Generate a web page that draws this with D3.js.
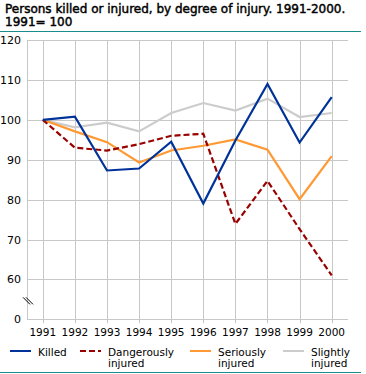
<!DOCTYPE html>
<html><head><meta charset="utf-8">
<script src="https://cdn.jsdelivr.net/npm/d3@7"></script>
<style>body{margin:0;background:#fff}svg{display:block}text{font-family:"DejaVu Sans",sans-serif;fill:#000}</style>
</head><body><svg id="c" width="366" height="374"></svg>
<script>
const years = [1991,1992,1993,1994,1995,1996,1997,1998,1999,2000];
const killed = [100,100.8,87.3,87.8,94.5,79.0,94.8,109.0,94.3,105.7];
const dangerously = [100,93.0,92.3,93.9,96.0,96.5,73.9,84.7,72.6,61.0];
const seriously = [100,97.1,94.4,89.3,92.3,93.5,95.1,92.5,80.1,90.9];
const slightly = [100,98.1,99.3,97.1,101.7,104.2,102.3,105.3,100.7,101.7];
const yTicks = [50,60,70,80,90,100,110,120];
const yTickLabels = ["0","60","70","80","90","100","110","120"];
const seriesNames = [["Killed"],["Dangerously","injured"],["Seriously","injured"],["Slightly","injured"]];
const seriesColors = ["#003399","#990000","#ff9933","#cccccc"];
const seriesDash = [null,"6,3",null,null];

const svg = d3.select("#c");
const x = d3.scalePoint().domain(years).range([42.8,331.7]);
const y = d3.scaleLinear().domain([50,120]).range([319.3,40]);
const left = 27, right = 348;

svg.append("text").attr("x",5).attr("y",13).style("font-size","12px")
  .attr("stroke","#000").attr("stroke-width",0.45)
  .text("Persons killed or injured, by degree of injury. 1991-2000.");
svg.append("text").attr("x",5).attr("y",25.5).style("font-size","12px")
  .attr("stroke","#000").attr("stroke-width",0.45).text("1991= 100");
svg.append("line").attr("x1",0).attr("x2",361).attr("y1",31.5).attr("y2",31.5).attr("stroke","#1a8c8c").attr("stroke-width",1);
svg.append("line").attr("x1",0).attr("x2",361).attr("y1",372.5).attr("y2",372.5).attr("stroke","#1a8c8c").attr("stroke-width",1);

// grid
const g = svg.append("g");
g.selectAll(".hg").data(yTicks.slice(1)).join("line")
  .attr("x1",left).attr("x2",right).attr("y1",d=>Math.round(y(d))+0.5).attr("y2",d=>Math.round(y(d))+0.5)
  .attr("stroke","#c8c8c8");
g.selectAll(".vg").data(years).join("line")
  .attr("x1",d=>Math.round(x(d))+0.5).attr("x2",d=>Math.round(x(d))+0.5).attr("y1",y(120)).attr("y2",y(50)+4)
  .attr("stroke","#c8c8c8");
// axes lines
g.append("line").attr("x1",left+0.5).attr("x2",left+0.5).attr("y1",y(120)).attr("y2",y(50)).attr("stroke","#c8c8c8");
g.append("line").attr("x1",left).attr("x2",right).attr("y1",Math.round(y(50))+0.5).attr("y2",Math.round(y(50))+0.5).attr("stroke","#c8c8c8");

// y labels
svg.selectAll(".yl").data(yTicks).join("text")
  .attr("x",21).attr("y",d=>y(d)+4).attr("text-anchor","end").style("font-size","11px")
  .text((d,i)=>yTickLabels[i]);
// x labels
svg.selectAll(".xl").data(years).join("text")
  .attr("x",d=>x(d)).attr("y",336).attr("text-anchor","middle").style("font-size","10.5px").text(d=>d);

// break mark
const by = y(54.5);
[0,3].forEach(o=>{
  svg.append("line").attr("x1",23+o).attr("y1",by-4).attr("x2",30+o).attr("y2",by+3)
    .attr("stroke","#000").attr("stroke-width",1);
});

// lines
const line = d3.line().x((d,i)=>x(years[i])).y(d=>y(d));
[killed,dangerously,seriously,slightly].map((s,i)=>({s,i})).reverse().forEach(({s,i})=>{
  svg.append("path").attr("d",line(s)).attr("fill","none").attr("stroke",seriesColors[i])
    .attr("stroke-width",2.2).attr("stroke-dasharray",seriesDash[i]).attr("stroke-linejoin","miter");
});

// legend
const lx = [10,80,190,283];
seriesNames.forEach((n,i)=>{
  svg.append("line").attr("x1",lx[i]).attr("x2",lx[i]+21).attr("y1",351).attr("y2",351)
    .attr("stroke",seriesColors[i]).attr("stroke-width",2).attr("stroke-dasharray",seriesDash[i]);
  const t = svg.append("text").attr("x",lx[i]+28).attr("y",356).style("font-size","10.5px");
  n.forEach((s,j)=>t.append("tspan").attr("x",lx[i]+28).attr("dy",j?11:0).text(s));
});
</script></body></html>
